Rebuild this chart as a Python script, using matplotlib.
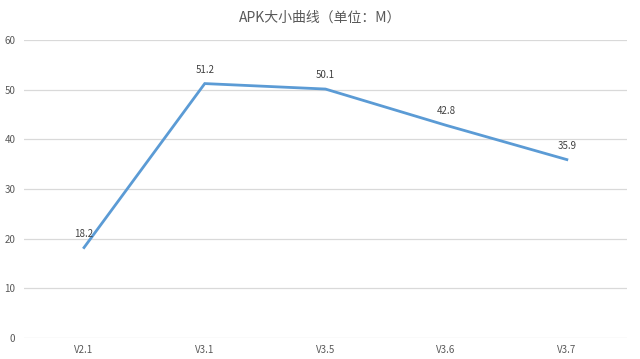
import matplotlib
matplotlib.use('Agg')
import matplotlib.pyplot as plt

versions = ['V2.1', 'V3.1', 'V3.5', 'V3.6', 'V3.7']
sizes = [18.2, 51.2, 50.1, 42.8, 35.9]

plt.rcParams['font.family'] = ['Noto Sans CJK SC', 'DejaVu Sans']
grey = '#595959'

fig = plt.figure(figsize=(6.4, 3.59), dpi=100)
ax = fig.add_axes([0.037, 0.0585, 0.943, 0.8305])

x = range(len(versions))
ax.plot(x, sizes, color='#5B9BD5', linewidth=2.0, solid_joinstyle='miter')
for i, v in zip(x, sizes):
    ax.annotate('{0}'.format(v), (i, v), xytext=(0, 6.5), textcoords='offset points',
                ha='center', va='bottom', fontsize=7, color='#404040')

ax.set_xlim(-0.5, len(versions) - 0.5)
ax.set_ylim(0, 60)
ax.set_yticks(range(0, 61, 10))
ax.set_xticks(list(x))
ax.set_xticklabels(versions)
ax.tick_params(length=0, labelsize=7, labelcolor=grey)
ax.tick_params(axis='x', pad=5)
ax.tick_params(axis='y', pad=6)
ax.grid(axis='y', color='#D9D9D9', linewidth=0.9)
ax.set_axisbelow(True)
for s in ax.spines.values():
    s.set_visible(False)

fig.suptitle('APK大小曲线（单位：M）', x=0.5, y=0.97, fontsize=10, color=grey)

plt.savefig('out.png', dpi=100)
